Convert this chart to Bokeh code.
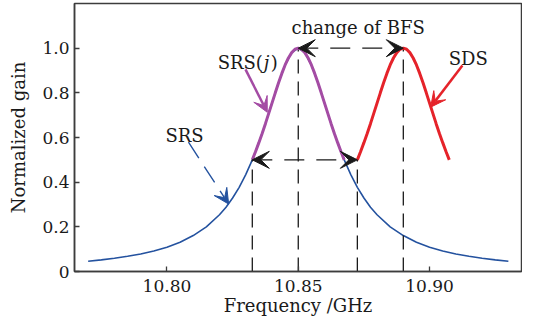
from bokeh.plotting import figure
from bokeh.models import Range1d, FixedTicker, NumeralTickFormatter, Arrow, VeeHead
from bokeh.core.properties import value
from bokeh.embed import file_html
from bokeh.resources import INLINE

# ---- data ----
blue_freq = [10.770, 10.775, 10.780, 10.785, 10.790, 10.795, 10.800, 10.805, 10.810, 10.815,
             10.820, 10.8225, 10.825, 10.8275, 10.830, 10.8325, 10.835, 10.8375, 10.840, 10.8425,
             10.845, 10.8475, 10.850, 10.8525, 10.855, 10.8575, 10.860, 10.8625, 10.865, 10.8675,
             10.870, 10.8725, 10.875, 10.8775, 10.880, 10.885, 10.890, 10.895, 10.900, 10.905,
             10.910, 10.915, 10.920, 10.925, 10.930]
blue_gain = [0.046, 0.052, 0.059, 0.068, 0.078, 0.092, 0.109, 0.131, 0.161, 0.200,
             0.254, 0.288, 0.329, 0.377, 0.434, 0.500, 0.577, 0.662, 0.754, 0.845,
             0.925, 0.980, 1.000, 0.980, 0.925, 0.845, 0.754, 0.662, 0.577, 0.500,
             0.434, 0.377, 0.329, 0.288, 0.254, 0.200, 0.161, 0.131, 0.109, 0.092,
             0.078, 0.068, 0.059, 0.052, 0.046]

srsj_freq = [10.8325, 10.83375, 10.835, 10.83625, 10.8375, 10.83875, 10.840, 10.84125, 10.8425, 10.84375,
             10.845, 10.84625, 10.8475, 10.84875, 10.850, 10.85125, 10.8525, 10.85375, 10.855, 10.85625,
             10.8575, 10.85875, 10.860, 10.86125, 10.8625, 10.86375, 10.865, 10.86625, 10.8675]
srsj_gain = [0.500, 0.537, 0.577, 0.618, 0.662, 0.708, 0.754, 0.800, 0.845, 0.887,
             0.925, 0.956, 0.980, 0.995, 1.000, 0.995, 0.980, 0.956, 0.925, 0.887,
             0.845, 0.800, 0.754, 0.708, 0.662, 0.618, 0.577, 0.537, 0.500]

sds_freq = [10.8725, 10.87375, 10.875, 10.87625, 10.8775, 10.87875, 10.880, 10.88125, 10.8825, 10.88375,
            10.885, 10.88625, 10.8875, 10.88875, 10.890, 10.89125, 10.8925, 10.89375, 10.895, 10.89625,
            10.8975, 10.89875, 10.900, 10.90125, 10.9025, 10.90375, 10.905, 10.90625, 10.9075]
sds_gain = [0.500, 0.537, 0.577, 0.618, 0.662, 0.708, 0.754, 0.800, 0.845, 0.887,
            0.925, 0.956, 0.980, 0.995, 1.000, 0.995, 0.980, 0.956, 0.925, 0.887,
            0.845, 0.800, 0.754, 0.708, 0.662, 0.618, 0.577, 0.537, 0.500]

# guide lines: half-max points and peaks
guide_freq = [10.8325, 10.85, 10.8725, 10.89]
guide_gain = [0.5, 1.0, 0.5, 1.0]

x_ticks = [10.80, 10.85, 10.90]
y_ticks = [0, 0.2, 0.4, 0.6, 0.8, 1.0]
y_tick_labels = ["0", "0.2", "0.4", "0.6", "0.8", "1.0"]

BLUE = "#24529f"
PURPLE = "#a44ca4"
RED = "#e5232a"
DARK = "#1a1a1a"
FRAME = "#3c3c3c"
FONT = "DejaVu Serif"

p = figure(width=522, height=320, output_backend="svg", toolbar_location=None,
           x_range=Range1d(10.7648, 10.9350), y_range=Range1d(0, 1.2),
           min_border_left=74, min_border_right=1, min_border_top=3, min_border_bottom=49)

p.background_fill_color = "white"
p.border_fill_color = "white"
p.outline_line_color = FRAME
p.outline_line_width = 1.5
p.xgrid.visible = False
p.ygrid.visible = False

for ax in (p.xaxis[0], p.yaxis[0]):
    ax.axis_line_color = FRAME
    ax.axis_line_width = 1.5
    ax.major_tick_line_color = FRAME
    ax.major_tick_line_width = 1.3
    ax.major_tick_in = 5
    ax.major_tick_out = 0
    ax.minor_tick_line_color = None
    ax.major_label_text_font = FONT
    ax.major_label_text_font_size = "17px"
    ax.major_label_text_color = DARK
    ax.axis_label_text_font = FONT
    ax.axis_label_text_font_size = "18px"
    ax.axis_label_text_font_style = "normal"
    ax.axis_label_text_color = DARK

p.xaxis.ticker = FixedTicker(ticks=x_ticks)
p.xaxis.formatter = NumeralTickFormatter(format="0.00")
p.xaxis.major_label_standoff = 8
p.xaxis.axis_label = "Frequency /GHz"
p.xaxis.axis_label_standoff = 0

p.yaxis.ticker = FixedTicker(ticks=y_ticks)
p.yaxis.major_label_overrides = {t: s for t, s in zip(y_ticks, y_tick_labels)}
p.yaxis.major_label_standoff = 5
p.yaxis.axis_label = "Normalized gain"
p.yaxis.axis_label_standoff = 10

# curves
p.line(blue_freq, blue_gain, line_color=BLUE, line_width=1.6)
p.segment(x0=guide_freq, y0=[0] * len(guide_freq), x1=guide_freq, y1=guide_gain,
          line_color=DARK, line_width=1.3, line_dash="14 8")
p.line(srsj_freq, srsj_gain, line_color=PURPLE, line_width=3)
p.line(sds_freq, sds_gain, line_color=RED, line_width=3)

# double arrows (BFS change)
def head(c, s=17):
    return VeeHead(size=s, fill_color=c, line_color=c, line_width=1)

p.add_layout(Arrow(start=head(DARK), end=head(DARK),
                   x_start=guide_freq[1], y_start=guide_gain[1],
                   x_end=guide_freq[3], y_end=guide_gain[3],
                   line_color=DARK, line_width=1.3, line_dash="20 12"))
p.add_layout(Arrow(start=head(DARK), end=head(DARK),
                   x_start=guide_freq[0], y_start=guide_gain[0],
                   x_end=guide_freq[2], y_end=guide_gain[2],
                   line_color=DARK, line_width=1.3, line_dash="20 12"))

# pointer arrows
p.add_layout(Arrow(end=head(PURPLE, 15), x_start=10.8299, y_start=0.905,
                   x_end=10.8382, y_end=0.713, line_color=PURPLE, line_width=2.5))
p.add_layout(Arrow(end=head(RED, 15), x_start=10.9125, y_start=0.922,
                   x_end=10.9004, y_end=0.736, line_color=RED, line_width=2.5))
p.add_layout(Arrow(end=head(BLUE, 15), x_start=10.8082, y_start=0.579,
                   x_end=10.8235, y_end=0.302, line_color=BLUE, line_width=1.4,
                   line_dash="19 10"))

# texts
common = dict(text_font=value(FONT), text_font_size="18px", text_color=DARK,
              text_baseline="alphabetic")
p.text(x=[10.8728], y=[1.094], text=["change of BFS"], text_align="center", **common)
p.text(x=[10.9147], y=[0.9525], text=["SDS"], text_align="center", **common)
p.text(x=[10.8067], y=[0.609], text=["SRS"], text_align="center", **common)
p.text(x=[10.8193], y=[0.9377], text=["SRS("], text_align="left", **common)
p.text(x=[10.8193], y=[0.9377], text=["j"], text_align="left", x_offset=46,
       text_font_style="italic", **common)
p.text(x=[10.8193], y=[0.9377], text=[")"], text_align="left", x_offset=53, **common)

open("out.html", "w").write(file_html(p, INLINE))
